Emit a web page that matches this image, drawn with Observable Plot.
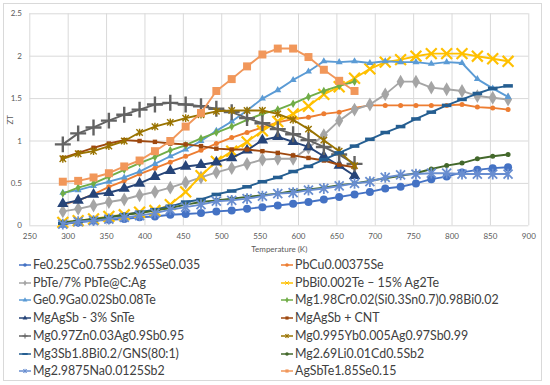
<!DOCTYPE html>
<html><head><meta charset="utf-8">
<script src="https://cdn.jsdelivr.net/npm/d3@7"></script>
<script src="https://cdn.jsdelivr.net/npm/@observablehq/plot@0.6"></script>
<style>
body{margin:0;background:#fff;font-family:Lato, sans-serif;}
#wrap{position:relative;width:550px;height:385px;overflow:hidden;background:#fff;}
#frame{position:absolute;left:3px;top:3px;width:539px;height:378px;border:1px solid #d9d9d9;box-sizing:border-box;}
#chart{position:absolute;left:0;top:0;}
.item{position:absolute;display:flex;align-items:center;font-size:12.4px;color:#404040;white-space:nowrap;line-height:14px;}
.item svg{margin-right:2px;}
</style></head>
<body><div id="wrap"><div id="frame"></div><div id="chart"></div><div id="legend"></div></div>
<script>
// temperatures (K)
const tempsShort = [293,313,333,353,373,393,413,433,453,473,493,513,533,553,573,593,613,633,653,673];
const tempsLong  = [293,313,333,353,373,393,413,433,453,473,493,513,533,553,573,593,613,633,653,673,693,713,733,753,773,793,813,833,853,873];
const xTicks = [250,300,350,400,450,500,550,600,650,700,750,800,850,900];
const yTicks = [0,0.5,1,1.5,2,2.5];

// series names
const names = [
  "Fe0.25Co0.75Sb2.965Se0.035","PbCu0.00375Se",
  "PbTe/7% PbTe@C:Ag","PbBi0.002Te \u2013 15% Ag2Te",
  "Ge0.9Ga0.02Sb0.08Te","Mg1.98Cr0.02(Si0.3Sn0.7)0.98Bi0.02",
  "MgAgSb - 3% SnTe","MgAgSb + CNT",
  "Mg0.97Zn0.03Ag0.9Sb0.95","Mg0.995Yb0.005Ag0.97Sb0.99",
  "Mg3Sb1.8Bi0.2/GNS(80:1)","Mg2.69Li0.01Cd0.5Sb2",
  "Mg2.9875Na0.0125Sb2","AgSbTe1.85Se0.15"
];
const colors = ["#4472C4","#ED7D31","#A5A5A5","#FFC000","#5B9BD5","#70AD47","#264478","#9E480E","#636363","#997300","#255E91","#43682B","#698ED0","#F1975A"];

// ZT values
const feCoSb   = [0.02,0.04,0.06,0.07,0.08,0.10,0.11,0.13,0.14,0.15,0.17,0.18,0.20,0.22,0.24,0.26,0.28,0.31,0.34,0.37,0.40,0.44,0.46,0.50,0.55,0.58,0.63,0.66,0.68,0.69];
const pbCuSe   = [0.25,0.30,0.37,0.46,0.53,0.61,0.68,0.75,0.82,0.89,0.97,1.04,1.10,1.16,1.22,1.26,1.28,1.32,1.34,1.39,1.42,1.42,1.42,1.42,1.42,1.42,1.43,1.40,1.39,1.37];
const pbTeC    = [0.17,0.20,0.24,0.28,0.31,0.36,0.40,0.45,0.51,0.57,0.63,0.68,0.73,0.78,0.79,0.79,0.92,1.07,1.24,1.37,1.43,1.55,1.70,1.70,1.63,1.61,1.59,1.53,1.51,1.49];
const pbBiTe   = [0.04,0.06,0.08,0.11,0.13,0.16,0.18,0.25,0.40,0.59,0.76,0.88,0.99,1.12,1.23,1.32,1.41,1.55,1.64,1.74,1.85,1.93,1.96,2.00,2.03,2.03,2.03,2.00,1.97,1.94];
const geGaSbTe = [0.39,0.42,0.47,0.52,0.57,0.64,0.73,0.82,0.90,1.00,1.12,1.23,1.36,1.50,1.60,1.72,1.82,1.94,1.93,1.94,1.92,1.94,1.93,1.93,1.91,1.93,1.92,1.73,1.62,1.52];
const mgCrSiSn = [0.38,0.45,0.50,0.58,0.66,0.74,0.81,0.89,0.95,1.03,1.10,1.17,1.25,1.32,1.37,1.44,1.52,1.59,1.65,1.70];
const mgAgSbSn = [0.26,0.30,0.37,0.39,0.44,0.50,0.58,0.65,0.70,0.72,0.75,0.80,0.89,1.01,1.05,0.99,0.93,0.82,0.71,0.59];
const mgAgSbCnt= [0.80,0.86,0.92,0.97,1.01,1.00,0.99,0.97,0.96,0.94,0.91,0.90,0.90,0.88,0.86,0.83,0.80,0.77,0.72,0.69];
const mgZnAgSb = [0.96,1.09,1.16,1.24,1.31,1.37,1.43,1.45,1.43,1.41,1.38,1.34,1.27,1.21,1.14,1.08,1.01,0.93,0.84,0.73];
const mgYbAgSb = [0.79,0.85,0.88,0.94,1.00,1.10,1.17,1.22,1.27,1.31,1.35,1.36,1.36,1.36,1.32,1.25,1.14,1.01,0.88,0.71];
const mg3SbBi  = [0.03,0.05,0.07,0.10,0.13,0.16,0.19,0.23,0.28,0.31,0.37,0.41,0.46,0.52,0.57,0.64,0.70,0.78,0.86,0.94,1.02,1.10,1.17,1.26,1.34,1.42,1.49,1.56,1.62,1.65];
const mgLiCdSb = [0.04,0.06,0.08,0.10,0.13,0.15,0.18,0.21,0.25,0.28,0.30,0.32,0.34,0.36,0.38,0.41,0.43,0.45,0.48,0.50,0.53,0.56,0.59,0.62,0.67,0.71,0.74,0.79,0.82,0.84];
const mgNaSb   = [0.02,0.05,0.06,0.08,0.10,0.12,0.15,0.19,0.22,0.25,0.29,0.30,0.32,0.35,0.38,0.39,0.42,0.44,0.47,0.50,0.52,0.57,0.60,0.61,0.62,0.62,0.61,0.61,0.61,0.61];
const agSbTeSe = [0.52,0.53,0.57,0.62,0.70,0.77,0.88,1.00,1.17,1.33,1.59,1.73,1.88,2.02,2.09,2.09,1.99,1.84,1.71,1.59];

const valueLists = [feCoSb,pbCuSe,pbTeC,pbBiTe,geGaSbTe,mgCrSiSn,mgAgSbSn,mgAgSbCnt,mgZnAgSb,mgYbAgSb,mg3SbBi,mgLiCdSb,mgNaSb,agSbTeSe];

// custom marker shapes
const dashSym = {draw(ctx, size){const r=Math.sqrt(size/Math.PI);const w=r*3,h=r*1.1;ctx.rect(-w/2,-h/2,w,h);}};
const starSym = {draw(ctx, size){const r=Math.sqrt(size/Math.PI);ctx.moveTo(-r,-r);ctx.lineTo(r,r);ctx.moveTo(-r,r);ctx.lineTo(r,-r);ctx.moveTo(0,-r*1.2);ctx.lineTo(0,r*1.2);}};

// marker style per series: [symbol, r, filled, strokeWidth]
const markers = [
  ["circle",4,true,0],["circle",2.5,true,0],
  ["diamond",4.2,true,0],["times",5,false,2.2],
  ["triangle",2.6,true,0],["diamond",2.6,true,0],
  ["triangle",4.2,true,0],["square",2.5,true,0],
  ["plus",5.2,false,2.4],[starSym,3.2,false,1.4],
  [dashSym,3.2,true,0],["circle",2.5,true,0],
  [starSym,4.5,false,1.8],["square",4.5,true,0]
];

const seriesMarks = [];
valueLists.forEach((vals, i) => {
  const ts = vals.length === tempsLong.length ? tempsLong : tempsShort;
  const data = vals.map((v, k) => ({T: ts[k], ZT: v}));
  const [sym, r, filled, sw] = markers[i];
  seriesMarks.push(Plot.line(data, {x: "T", y: "ZT", stroke: colors[i], strokeWidth: 1.9}));
  seriesMarks.push(Plot.dot(data, {x: "T", y: "ZT", symbol: sym, r: r,
    fill: filled ? colors[i] : "none", stroke: filled ? "none" : colors[i], strokeWidth: filled ? 0 : sw}));
});

const chart = Plot.plot({
  width: 550, height: 256,
  marginLeft: 29.3, marginRight: 21.7, marginTop: 13.3, marginBottom: 30.7,
  style: {fontFamily: "Lato, sans-serif", fontSize: "8px", color: "#595959", background: "transparent"},
  x: {domain: [250, 900]},
  y: {domain: [0, 2.5]},
  marks: [
    Plot.gridX(xTicks, {stroke: "#d9d9d9", strokeOpacity: 1}),
    Plot.gridY(yTicks, {stroke: "#d9d9d9", strokeOpacity: 1}),
    Plot.axisX(xTicks, {tickSize: 0, tickPadding: 8, tickFormat: d => String(d), label: "Temperature (K)", labelAnchor: "center", labelOffset: 26, labelArrow: "none"}),
    Plot.axisY(yTicks, {tickSize: 0, tickPadding: 8, tickFormat: d => String(d), label: "ZT", labelAnchor: "center", labelOffset: 22, labelArrow: "none"}),
    ...seriesMarks
  ]
});
document.getElementById("chart").appendChild(chart);

// legend
const legend = document.getElementById("legend");
names.forEach((name, i) => {
  const col = i % 2, row = Math.floor(i / 2);
  const item = document.createElement("div");
  item.className = "item";
  item.style.left = (col === 0 ? 19 : 281) + "px";
  item.style.top = (265 + row * 17.7 - 7) + "px";
  const svg = d3.create("svg").attr("width", 12).attr("height", 10);
  svg.append("line").attr("x1", 0).attr("x2", 12).attr("y1", 5).attr("y2", 5).attr("stroke", colors[i]).attr("stroke-width", 1.5);
  const [sym] = markers[i];
  const symType = typeof sym === "string" ? {circle: d3.symbolCircle, diamond: d3.symbolDiamond, triangle: d3.symbolTriangle, square: d3.symbolSquare, times: d3.symbolTimes, plus: d3.symbolPlus}[sym] : sym;
  const filled = markers[i][2];
  svg.append("path").attr("transform", "translate(6,5)").attr("d", d3.symbol(symType, 10)())
    .attr("fill", filled ? colors[i] : "none").attr("stroke", filled ? "none" : colors[i]).attr("stroke-width", 1);
  item.appendChild(svg.node());
  const span = document.createElement("span");
  span.textContent = name;
  item.appendChild(span);
  legend.appendChild(item);
});
</script>
</body></html>
